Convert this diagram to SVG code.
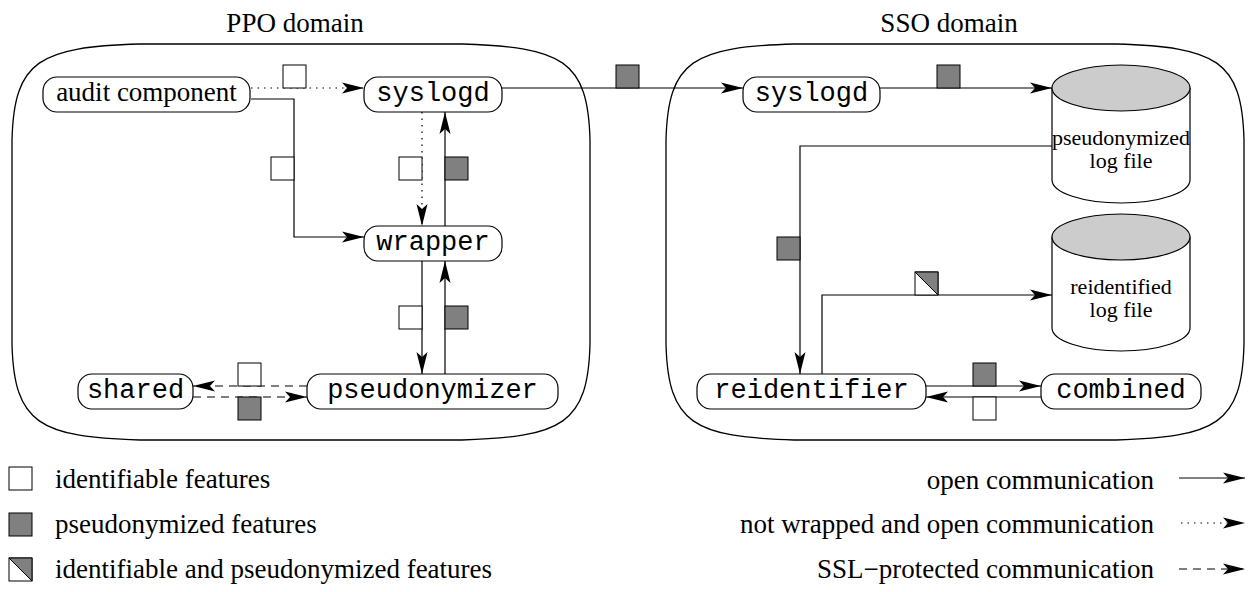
<svg xmlns="http://www.w3.org/2000/svg" width="1253" height="592" viewBox="0 0 1253 592">
<style>
.dom{fill:none;stroke:#000;stroke-width:1.3}
.node{fill:#fff;stroke:#000;stroke-width:1.2}
.mono{font-family:"Liberation Mono","DejaVu Sans Mono",monospace;font-size:27px;text-anchor:middle}
.serif{font-family:"Liberation Serif","DejaVu Serif",serif;font-size:27px}
.cyl{font-family:"Liberation Serif","DejaVu Serif",serif;font-size:22px;text-anchor:middle}
.c{fill:none;stroke:#000;stroke-width:1.2;marker-end:url(#ah)}
.dot{stroke-dasharray:1.5 5}
.dash{stroke-dasharray:8 6}
.wsq{fill:#fff;stroke:#000;stroke-width:1}
.gsq{fill:#808080;stroke:#000;stroke-width:1}
.top{fill:#cccccc;stroke:#000;stroke-width:1.2}
.body{fill:#fff;stroke:#000;stroke-width:1.2}
</style>
<defs>
<marker id="ah" markerUnits="userSpaceOnUse" markerWidth="22" markerHeight="11" refX="22" refY="5.5" orient="auto" overflow="visible">
<path d="M0,0 L22,5.5 L0,11 L5,5.5 Z" fill="#000" stroke="none"/>
</marker>
</defs>
<rect width="1253" height="592" fill="#fff"/>

<g id="ppo-domain">
<path class="dom" d="M12,140 C14,60 40,47 140,44 L462,44 C562,47 588,60 590,140 L590,344 C588,424 562,437 462,440 L140,440 C40,437 14,424 12,344 Z"/>
<text class="serif" x="295" y="32" text-anchor="middle">PPO domain</text>
</g>
<g id="sso-domain">
<path class="dom" d="M666,140 C668,60 694,47 794,44 L1116,44 C1216,47 1242,60 1244,140 L1244,344 C1242,424 1216,437 1116,440 L794,440 C694,437 668,424 666,344 Z"/>
<text class="serif" x="949" y="32" text-anchor="middle">SSO domain</text>
</g>

<g id="connectors">
<polyline class="c dot" points="251,88 364,88"/>
<polyline class="c" points="251,99 294,99 294,237 364,237"/>
<polyline class="c" points="502,88 743,88"/>
<polyline class="c dot" points="422,112 422,226"/>
<polyline class="c" points="445,226 445,112"/>
<polyline class="c" points="422,261 422,374"/>
<polyline class="c" points="445,374 445,261"/>
<polyline class="c dash" points="307,386 193,386"/>
<polyline class="c dash" points="193,397 307,397"/>
<polyline class="c" points="880,88 1052,88"/>
<polyline class="c" points="1052,146 800,146 800,374"/>
<polyline class="c" points="822,374 822,295 1052,295"/>
<polyline class="c" points="926,386 1041,386"/>
<polyline class="c" points="1041,397 926,397"/>
</g>

<g id="feature-marks">
<rect class="wsq" x="283" y="65" width="23" height="23"/>
<rect class="wsq" x="271" y="157" width="23" height="23"/>
<rect class="wsq" x="399" y="157" width="23" height="23"/>
<rect class="gsq" x="445" y="157" width="23" height="23"/>
<rect class="wsq" x="399" y="306" width="23" height="23"/>
<rect class="gsq" x="445" y="306" width="23" height="23"/>
<rect class="wsq" x="238" y="363" width="23" height="23"/>
<rect class="gsq" x="238" y="397" width="23" height="23"/>
<rect class="gsq" x="616" y="65" width="23" height="23"/>
<rect class="gsq" x="937" y="65" width="23" height="23"/>
<rect class="gsq" x="777" y="237" width="23" height="23"/>
<g>
<rect class="wsq" x="915" y="272" width="23" height="23"/>
<path d="M915,272 L938,272 L938,295 Z" fill="#808080" stroke="#000" stroke-width="1"/>
</g>
<rect class="gsq" x="973" y="363" width="23" height="23"/>
<rect class="wsq" x="973" y="397" width="23" height="23"/>
</g>

<g id="audit-component">
<rect class="node" x="43" y="77" width="207" height="35" rx="14"/>
<text class="serif" x="146.5" y="101" text-anchor="middle">audit component</text>
</g>
<g id="syslogd-ppo">
<rect class="node" x="364" y="77" width="138" height="35" rx="14"/>
<text class="mono" x="433" y="101">syslogd</text>
</g>
<g id="wrapper">
<rect class="node" x="364" y="226" width="138" height="35" rx="14"/>
<text class="mono" x="433" y="250">wrapper</text>
</g>
<g id="pseudonymizer">
<rect class="node" x="307" y="374" width="251" height="35" rx="14"/>
<text class="mono" x="432.5" y="398">pseudonymizer</text>
</g>
<g id="shared">
<rect class="node" x="78" y="374" width="115" height="35" rx="14"/>
<text class="mono" x="135.5" y="398">shared</text>
</g>
<g id="syslogd-sso">
<rect class="node" x="743" y="77" width="137" height="35" rx="14"/>
<text class="mono" x="811.5" y="101">syslogd</text>
</g>
<g id="pseudonymized-log">
<path class="body" d="M1052,88 L1052,180 A69,23 0 0 0 1190,180 L1190,88"/>
<ellipse class="top" cx="1121" cy="88" rx="69" ry="23"/>
<text class="cyl" x="1121" y="145">pseudonymized</text>
<text class="cyl" x="1121" y="168">log file</text>
</g>
<g id="reidentified-log">
<path class="body" d="M1052,237 L1052,328 A69,23 0 0 0 1190,328 L1190,237"/>
<ellipse class="top" cx="1121" cy="237" rx="69" ry="23"/>
<text class="cyl" x="1121" y="294">reidentified</text>
<text class="cyl" x="1121" y="317">log file</text>
</g>
<g id="reidentifier">
<rect class="node" x="697" y="374" width="229" height="35" rx="14"/>
<text class="mono" x="811.5" y="398">reidentifier</text>
</g>
<g id="combined">
<rect class="node" x="1041" y="374" width="160" height="35" rx="14"/>
<text class="mono" x="1121" y="398">combined</text>
</g>

<g id="legend">
<rect class="wsq" x="9" y="467" width="23" height="23"/>
<text class="serif" x="55" y="488">identifiable features</text>
<rect class="gsq" x="9" y="513" width="23" height="23"/>
<text class="serif" x="55" y="533">pseudonymized features</text>
<rect class="wsq" x="9" y="558" width="23" height="23"/>
<path d="M9,558 L32,558 L32,581 Z" fill="#808080" stroke="#000" stroke-width="1"/>
<text class="serif" x="55" y="578">identifiable and pseudonymized features</text>
<text class="serif" x="1154" y="489" text-anchor="end">open communication</text>
<polyline class="c" points="1179,478 1245,478"/>
<text class="serif" x="1154" y="533" text-anchor="end">not wrapped and open communication</text>
<polyline class="c dot" points="1181,523 1245,523"/>
<text class="serif" x="1154" y="578" text-anchor="end">SSL−protected communication</text>
<polyline class="c dash" points="1179,569 1245,569"/>
</g>
</svg>
